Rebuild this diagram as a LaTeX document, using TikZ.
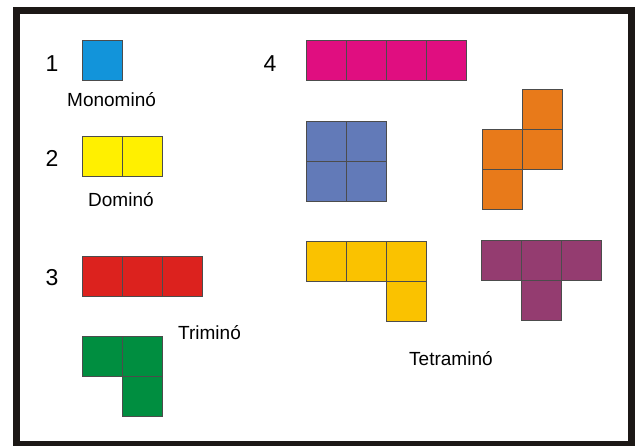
\documentclass[tikz,border=0pt]{standalone}
\usepackage{fontspec}
\setmainfont{Liberation Sans}
\definecolor{cblue}{RGB}{18,148,218}
\definecolor{cyellow}{RGB}{255,240,0}
\definecolor{cred}{RGB}{220,34,30}
\definecolor{cgreen}{RGB}{0,142,64}
\definecolor{cmag}{RGB}{224,14,128}
\definecolor{cslate}{RGB}{98,122,184}
\definecolor{corange}{RGB}{232,122,26}
\definecolor{cgold}{RGB}{250,194,0}
\definecolor{cpurple}{RGB}{148,60,112}
\definecolor{cframe}{RGB}{28,24,22}
\tikzset{
  cell/.style={draw=black!70, line width=0.7pt},
  lbl/.style={inner sep=0pt, anchor=base west, font=\fontsize{19}{22}\selectfont},
  num/.style={inner sep=0pt, anchor=base, font=\fontsize{23}{26}\selectfont},
}
\newcommand{\sq}[3]{\filldraw[cell, fill=#3] (#1,#2) rectangle ++(40,40);}
\begin{document}
\begin{tikzpicture}[x=1pt,y=-1pt]
\useasboundingbox (0,0) rectangle (640,446);
\fill[white] (0,0) rectangle (640,446);
\begin{scope}
\clip (0,0) rectangle (640,446);
\draw[cframe, line width=7pt] (16.5,10.5) rectangle (631.5,444.5);
\end{scope}
% numbers
\node[num] (n1) at (52,72) {1};
\node[num] (n2) at (52,167) {2};
\node[num] (n3) at (52,286) {3};
\node[num] (n4) at (270,72) {4};
% labels
\node[lbl] (mono) at (67,107) {Monominó};
\node[lbl] (domi) at (88,207) {Dominó};
\node[lbl] (trim) at (178,340) {Triminó};
\node[lbl] (tetr) at (409,366) {Tetraminó};
% monomino
\sq{82}{40}{cblue}
% domino
\sq{82}{136}{cyellow}\sq{122}{136}{cyellow}
% straight tromino
\sq{82}{256}{cred}\sq{122}{256}{cred}\sq{162}{256}{cred}
% L tromino
\sq{82}{336}{cgreen}\sq{122}{336}{cgreen}\sq{122}{376}{cgreen}
% I tetromino
\sq{306}{40}{cmag}\sq{346}{40}{cmag}\sq{386}{40}{cmag}\sq{426}{40}{cmag}
% O tetromino
\sq{306}{121}{cslate}\sq{346}{121}{cslate}\sq{306}{161}{cslate}\sq{346}{161}{cslate}
% S tetromino
\sq{522}{89}{corange}\sq{522}{129}{corange}\sq{482}{129}{corange}\sq{482}{169}{corange}
% L tetromino
\sq{306}{241}{cgold}\sq{346}{241}{cgold}\sq{386}{241}{cgold}\sq{386}{281}{cgold}
% T tetromino
\sq{481}{240}{cpurple}\sq{521}{240}{cpurple}\sq{561}{240}{cpurple}\sq{521}{280}{cpurple}
\end{tikzpicture}
\end{document}
